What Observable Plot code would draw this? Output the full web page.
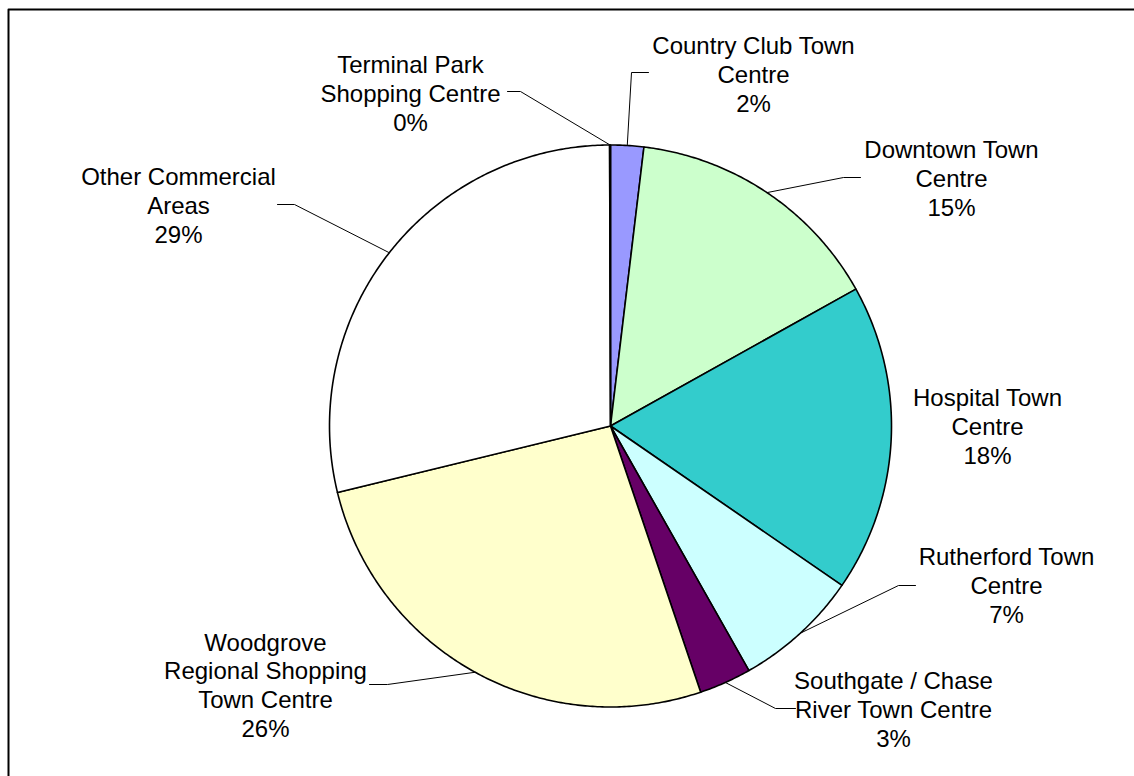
<!DOCTYPE html>
<html><head><meta charset="utf-8">
<script src="https://cdn.jsdelivr.net/npm/d3@7"></script>
<script src="https://cdn.jsdelivr.net/npm/@observablehq/plot@0.6"></script>
<style>body{margin:0;background:#fff}</style>
</head><body><div id="chart"></div>
<script>
// ---- data ----
const categories = [
  "Country Club Town Centre",
  "Downtown Town Centre",
  "Hospital Town Centre",
  "Rutherford Town Centre",
  "Southgate / Chase River Town Centre",
  "Woodgrove Regional Shopping Town Centre",
  "Other Commercial Areas",
  "Terminal Park Shopping Centre"
];
const shares = [1.9, 15.0, 17.7, 7.2, 3.0, 26.4, 28.75, 0.05];
const labelNames = [
  "Country Club Town\nCentre",
  "Downtown Town\nCentre",
  "Hospital Town\nCentre",
  "Rutherford Town\nCentre",
  "Southgate / Chase\nRiver Town Centre",
  "Woodgrove\nRegional Shopping\nTown Centre",
  "Other Commercial\nAreas",
  "Terminal Park\nShopping Centre"
];

// ---- style & layout ----
const sliceColors = ["#9999FF", "#CCFFCC", "#33CCCC", "#CCFFFF", "#660066", "#FFFFCC", "#FFFFFF", "#FFFFFF"];
const W = 1134, H = 776, cx = 610, cy = 425.5, R = 281;
const labelPos = [[753,73],[951,177],[987,425],[1006,584],[893,708],[265,684],[178,204],[410,92]];
const leaderStub = [[648,72,631,72],[860,177,843,177],null,[915,585,898,585],[795,708,775,708],[369,684,387,684],[277,204,294,204],[507,91,520,91]];

// ---- geometry from values ----
const total = d3.sum(shares);
let acc = 0;
const slices = shares.map((v, i) => {
  const a0 = acc / total * 2 * Math.PI; acc += v;
  const a1 = acc / total * 2 * Math.PI;
  return {i, v, a0, a1, mid: (a0 + a1) / 2};
});
const pt = a => ({x: cx + R * Math.sin(a), y: cy - R * Math.cos(a)});

const sliceMarks = slices.map(s => {
  const n = Math.max(2, Math.ceil((s.a1 - s.a0) / (Math.PI / 360)));
  const pts = [{x: cx, y: cy}];
  for (let k = 0; k <= n; k++) pts.push(pt(s.a0 + (s.a1 - s.a0) * k / n));
  pts.push({x: cx, y: cy});
  return Plot.line(pts, {x: "x", y: "y", fill: sliceColors[s.i], stroke: "black", strokeWidth: 1.6, strokeLinejoin: "round"});
});

const leaderMarks = slices.filter(s => leaderStub[s.i]).map(s => {
  const [x0, y0, x1, y1] = leaderStub[s.i];
  const e = pt(s.mid);
  return Plot.line([{x: x0, y: y0}, {x: x1, y: y1}, e], {x: "x", y: "y", stroke: "black", strokeWidth: 1});
});

const labels = slices.map(s => ({
  x: labelPos[s.i][0], y: labelPos[s.i][1],
  text: labelNames[s.i] + "\n" + Math.round(s.v / total * 100) + "%"
}));

const chart = Plot.plot({
  width: W, height: H, margin: 0,
  x: {type: "linear", domain: [0, W], range: [0, W], axis: null},
  y: {type: "linear", domain: [0, H], range: [0, H], axis: null},
  style: {background: "#fff"},
  marks: [
    Plot.line([{x: 8, y: H + 5}, {x: 8, y: 9}, {x: W + 5, y: 9}], {x: "x", y: "y", stroke: "black", strokeWidth: 2}),
    ...sliceMarks,
    ...leaderMarks,
    Plot.text(labels, {x: "x", y: "y", text: "text", fontSize: 24, lineHeight: 1.2,
      fontFamily: "Liberation Sans, Arial, sans-serif", textAnchor: "middle", fill: "black"})
  ]
});
document.getElementById("chart").appendChild(chart);
</script>
</body></html>
